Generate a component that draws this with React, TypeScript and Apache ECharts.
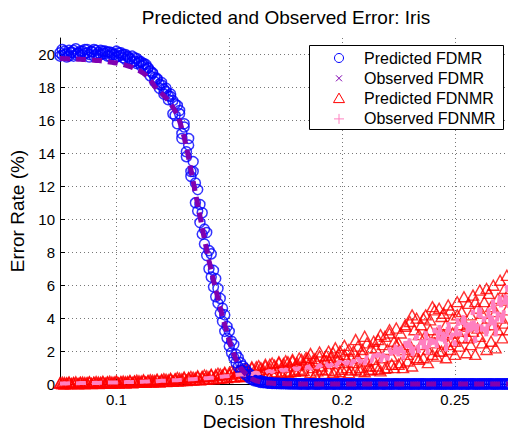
import React, { useEffect, useRef } from "react";
import * as echarts from "echarts";

const thresholds = [
  0.075, 0.076, 0.077, 0.078, 0.079, 0.08, 0.081, 0.082, 0.083, 0.084,
  0.085, 0.086, 0.087, 0.088, 0.089, 0.09, 0.091, 0.092, 0.093, 0.094,
  0.095, 0.096, 0.097, 0.098, 0.099, 0.1, 0.101, 0.102, 0.103, 0.104,
  0.105, 0.106, 0.107, 0.108, 0.109, 0.11, 0.111, 0.112, 0.113, 0.114,
  0.115, 0.116, 0.117, 0.118, 0.119, 0.12, 0.121, 0.122, 0.123, 0.124,
  0.125, 0.126, 0.127, 0.128, 0.129, 0.13, 0.131, 0.132, 0.133, 0.134,
  0.135, 0.136, 0.137, 0.138, 0.139, 0.14, 0.141, 0.142, 0.143, 0.144,
  0.145, 0.146, 0.147, 0.148, 0.149, 0.15, 0.151, 0.152, 0.153, 0.154,
  0.155, 0.156, 0.157, 0.158, 0.159, 0.16, 0.161, 0.162, 0.163, 0.164,
  0.165, 0.166, 0.167, 0.168, 0.169, 0.17, 0.171, 0.172, 0.173, 0.174,
  0.175, 0.176, 0.177, 0.178, 0.179, 0.18, 0.181, 0.182, 0.183, 0.184,
  0.185, 0.186, 0.187, 0.188, 0.189, 0.19, 0.191, 0.192, 0.193, 0.194,
  0.195, 0.196, 0.197, 0.198, 0.199, 0.2, 0.201, 0.202, 0.203, 0.204,
  0.205, 0.206, 0.207, 0.208, 0.209, 0.21, 0.211, 0.212, 0.213, 0.214,
  0.215, 0.216, 0.217, 0.218, 0.219, 0.22, 0.221, 0.222, 0.223, 0.224,
  0.225, 0.226, 0.227, 0.228, 0.229, 0.23, 0.231, 0.232, 0.233, 0.234,
  0.235, 0.236, 0.237, 0.238, 0.239, 0.24, 0.241, 0.242, 0.243, 0.244,
  0.245, 0.246, 0.247, 0.248, 0.249, 0.25, 0.251, 0.252, 0.253, 0.254,
  0.255, 0.256, 0.257, 0.258, 0.259, 0.26, 0.261, 0.262, 0.263, 0.264,
  0.265, 0.266, 0.267, 0.268, 0.269, 0.27, 0.271, 0.272, 0.273, 0.274,
];

// Predicted FDMR, first run
const predictedFDMR = [
  20.1, 19.95, 20.2, 20.05, 19.9, 20.15, 20.25, 20.0, 20.1, 19.95,
  20.2, 20.05, 20.3, 20.0, 20.15, 19.9, 20.25, 20.1, 20.0, 20.2,
  20.05, 20.15, 19.9, 20.1, 20.0, 19.85, 20.1, 19.95, 19.8, 20.0,
  19.85, 19.7, 19.9, 19.6, 19.75, 19.5, 19.55, 19.35, 19.4, 19.15,
  19.0, 18.85, 18.6, 18.5, 18.2, 18.15, 17.9, 17.75, 17.5, 17.45,
  17.2, 16.3, 16.9, 16.4, 15.2, 15.6, 14.1, 14.5, 12.6, 12.9,
  12.2, 10.5, 10.9, 9.1, 9.4, 7.8, 8.1, 6.5, 6.9, 5.3,
  5.8, 4.3, 4.6, 3.2, 3.5, 2.3, 2.6, 1.6, 1.8, 1.05,
  1.3, 0.8, 0.95, 0.5, 0.6, 0.3, 0.35, 0.18, 0.22, 0.1,
  0.12, 0.08, 0.08, 0.05, 0.06, 0.04, 0.05, 0.03, 0.04, 0.03,
  0.03, 0.02, 0.03, 0.02, 0.02, 0.02, 0.01, 0.02, 0.01, 0.01,
  0.01, 0.02, 0.01, 0.01, 0.0, 0.01, 0.02, 0.01, 0.0, 0.01,
  0.01, 0.0, 0.01, 0.02, 0.01, 0.0, 0.01, 0.01, 0.0, 0.02,
  0.0, 0.01, 0.01, 0.0, 0.02, 0.01, 0.0, 0.01, 0.01, 0.0,
  0.01, 0.0, 0.02, 0.01, 0.0, 0.01, 0.01, 0.0, 0.02, 0.01,
  0.0, 0.01, 0.0, 0.01, 0.02, 0.0, 0.01, 0.0, 0.01, 0.01,
  0.02, 0.0, 0.01, 0.0, 0.01, 0.02, 0.0, 0.01, 0.0, 0.01,
  0.0, 0.01, 0.02, 0.0, 0.01, 0.0, 0.01, 0.02, 0.0, 0.01,
  0.01, 0.0, 0.01, 0.02, 0.0, 0.01, 0.0, 0.01, 0.02, 0.0,
  0.01, 0.02, 0.0, 0.01, 0.0, 0.01, 0.02, 0.0, 0.01, 0.0,
];

// Predicted FDMR, second run
const predictedFDMR2 = [
  19.9, 20.3, 20.0, 19.85, 20.25, 20.1, 19.9, 20.35, 20.05, 20.2,
  19.95, 20.3, 20.1, 19.85, 20.2, 20.3, 20.0, 19.9, 20.25, 20.05,
  20.2, 19.9, 20.15, 20.0, 19.75, 20.2, 19.9, 20.1, 20.0, 19.7,
  19.9, 19.75, 19.55, 19.8, 19.45, 19.6, 19.3, 19.45, 19.1, 19.2,
  18.7, 18.9, 18.35, 18.55, 17.95, 18.3, 17.6, 17.95, 17.25, 17.6,
  16.4, 17.0, 15.8, 16.6, 14.9, 15.8, 13.8, 14.9, 12.9, 13.5,
  11.0, 11.8, 9.8, 10.4, 8.5, 9.2, 7.0, 7.9, 5.9, 6.4,
  4.9, 5.2, 3.8, 4.2, 2.8, 3.2, 1.9, 2.4, 1.3, 1.6,
  0.85, 1.1, 0.6, 0.75, 0.35, 0.5, 0.2, 0.3, 0.14, 0.2,
  0.09, 0.14, 0.06, 0.1, 0.04, 0.07, 0.03, 0.05, 0.02, 0.04,
  0.02, 0.03, 0.01, 0.02, 0.01, 0.02, 0.01, 0.0, 0.02, 0.01,
  0.0, 0.01, 0.02, 0.0, 0.01, 0.0, 0.01, 0.02, 0.0, 0.01,
  0.02, 0.01, 0.0, 0.01, 0.0, 0.02, 0.01, 0.0, 0.01, 0.0,
  0.01, 0.0, 0.02, 0.01, 0.0, 0.01, 0.02, 0.0, 0.01, 0.02,
  0.0, 0.02, 0.01, 0.0, 0.01, 0.02, 0.0, 0.01, 0.0, 0.02,
  0.01, 0.0, 0.02, 0.0, 0.01, 0.01, 0.0, 0.02, 0.01, 0.0,
  0.01, 0.02, 0.0, 0.01, 0.0, 0.01, 0.02, 0.0, 0.02, 0.0,
  0.02, 0.0, 0.01, 0.01, 0.0, 0.02, 0.01, 0.0, 0.01, 0.02,
  0.0, 0.01, 0.02, 0.0, 0.01, 0.0, 0.02, 0.01, 0.0, 0.01,
  0.02, 0.0, 0.01, 0.0, 0.02, 0.01, 0.0, 0.01, 0.02, 0.0,
];

const observedFDMR = [
  19.75, 19.75, 19.74, 19.74, 19.73, 19.73, 19.72, 19.72, 19.71, 19.71,
  19.7, 19.69, 19.68, 19.67, 19.66, 19.65, 19.64, 19.63, 19.62, 19.6,
  19.58, 19.56, 19.54, 19.52, 19.5, 19.48, 19.45, 19.42, 19.39, 19.35,
  19.31, 19.27, 19.22, 19.16, 19.1, 19.03, 18.95, 18.86, 18.75, 18.62,
  18.45, 18.26, 18.05, 17.9, 17.75, 17.63, 17.5, 17.36, 17.2, 17.02,
  16.8, 16.57, 16.3, 15.95, 15.5, 14.98, 14.4, 13.72, 13.0, 12.3,
  11.6, 10.9, 10.2, 9.5, 8.8, 8.15, 7.5, 6.9, 6.3, 5.75,
  5.2, 4.65, 4.1, 3.6, 3.1, 2.65, 2.2, 1.85, 1.5, 1.25,
  1.0, 0.82, 0.65, 0.52, 0.4, 0.32, 0.25, 0.2, 0.16, 0.13,
  0.1, 0.08, 0.07, 0.06, 0.05, 0.04, 0.04, 0.03, 0.03, 0.03,
  0.02, 0.02, 0.02, 0.02, 0.02, 0.01, 0.01, 0.01, 0.01, 0.01,
  0.01, 0.01, 0.01, 0.01, 0.01, 0.01, 0.01, 0.01, 0.01, 0.01,
  0.01, 0.01, 0.01, 0.01, 0.01, 0.01, 0.01, 0.01, 0.01, 0.01,
  0.01, 0.01, 0.01, 0.01, 0.01, 0.01, 0.01, 0.01, 0.01, 0.01,
  0.01, 0.01, 0.01, 0.01, 0.01, 0.01, 0.01, 0.01, 0.01, 0.01,
  0.01, 0.01, 0.01, 0.01, 0.01, 0.01, 0.01, 0.01, 0.01, 0.01,
  0.01, 0.01, 0.01, 0.01, 0.01, 0.01, 0.01, 0.01, 0.01, 0.01,
  0.01, 0.01, 0.01, 0.01, 0.01, 0.01, 0.01, 0.01, 0.01, 0.01,
  0.01, 0.01, 0.01, 0.01, 0.01, 0.01, 0.01, 0.01, 0.01, 0.01,
  0.01, 0.01, 0.01, 0.01, 0.01, 0.01, 0.01, 0.01, 0.01, 0.01,
];

// Predicted FDNMR, first run
const predictedFDNMR = [
  0.08, 0.02, 0.1, 0.03, 0.09, 0.04, 0.1, 0.05, 0.02, 0.11,
  0.04, 0.1, 0.05, 0.12, 0.03, 0.11, 0.06, 0.13, 0.05, 0.12,
  0.06, 0.14, 0.07, 0.13, 0.08, 0.15, 0.06, 0.16, 0.09, 0.15,
  0.1, 0.18, 0.09, 0.19, 0.11, 0.2, 0.12, 0.21, 0.13, 0.22,
  0.13, 0.24, 0.15, 0.25, 0.14, 0.28, 0.17, 0.29, 0.18, 0.3,
  0.2, 0.33, 0.19, 0.35, 0.22, 0.38, 0.23, 0.4, 0.25, 0.42,
  0.27, 0.45, 0.28, 0.48, 0.3, 0.5, 0.32, 0.55, 0.33, 0.58,
  0.35, 0.62, 0.38, 0.66, 0.4, 0.7, 0.45, 0.75, 0.46, 0.8,
  0.5, 0.85, 0.45, 0.92, 0.55, 0.98, 0.52, 1.05, 0.6, 1.0,
  0.65, 1.1, 0.6, 1.2, 0.7, 1.15, 0.75, 1.3, 0.68, 1.25,
  0.8, 1.35, 0.75, 1.4, 0.85, 1.3, 0.9, 1.5, 0.82, 1.45,
  1.6, 0.7, 1.4, 1.55, 0.8, 1.7, 0.9, 1.5, 1.75, 0.85,
  1.6, 1.9, 0.8, 1.7, 2.0, 0.9, 1.8, 1.0, 2.1, 0.85,
  2.0, 0.9, 2.3, 1.0, 2.1, 0.75, 2.5, 1.1, 0.9, 2.6,
  1.1, 2.7, 0.8, 2.4, 2.9, 1.0, 3.1, 1.2, 2.6, 3.4,
  1.2, 3.1, 1.0, 3.5, 1.4, 3.8, 1.1, 3.3, 4.0, 1.5,
  3.6, 1.6, 4.2, 1.3, 3.9, 1.8, 4.5, 1.7, 4.6, 2.0,
  4.3, 1.6, 4.8, 2.1, 4.0, 1.8, 5.0, 2.3, 4.4, 5.3,
  1.9, 4.9, 2.4, 5.4, 1.8, 4.6, 5.7, 2.5, 5.0, 2.1,
  5.5, 2.6, 6.0, 2.2, 5.2, 6.3, 2.8, 5.8, 6.6, 3.3,
];

// Predicted FDNMR, second run
const predictedFDNMR2 = [
  0.05, 0.12, 0.0, 0.08, 0.13, 0.02, 0.07, 0.14, 0.03, 0.09,
  0.13, 0.02, 0.09, 0.15, 0.04, 0.1, 0.16, 0.03, 0.12, 0.17,
  0.04, 0.11, 0.18, 0.05, 0.13, 0.2, 0.07, 0.12, 0.19, 0.06,
  0.16, 0.22, 0.08, 0.17, 0.24, 0.1, 0.19, 0.26, 0.11, 0.2,
  0.27, 0.12, 0.22, 0.3, 0.14, 0.24, 0.33, 0.16, 0.26, 0.35,
  0.17, 0.3, 0.4, 0.2, 0.32, 0.43, 0.22, 0.36, 0.46, 0.25,
  0.38, 0.5, 0.26, 0.42, 0.55, 0.3, 0.45, 0.6, 0.32, 0.5,
  0.66, 0.36, 0.55, 0.72, 0.4, 0.6, 0.8, 0.42, 0.65, 0.85,
  0.45, 0.7, 0.95, 0.5, 0.78, 1.05, 0.55, 0.82, 1.12, 0.6,
  0.88, 1.2, 0.62, 0.95, 1.28, 0.66, 1.0, 1.35, 0.7, 1.05,
  1.42, 0.72, 1.1, 1.5, 0.78, 1.15, 1.58, 0.8, 1.2, 1.62,
  1.2, 1.85, 1.0, 0.6, 1.3, 1.95, 1.1, 0.65, 1.4, 2.0,
  1.25, 0.7, 2.2, 1.45, 0.75, 1.3, 2.35, 1.5, 0.7, 1.6,
  1.3, 2.7, 1.6, 0.8, 1.85, 2.9, 1.4, 0.85, 2.2, 1.5,
  2.2, 0.9, 3.0, 1.6, 0.95, 2.1, 3.3, 1.7, 1.0, 2.4,
  2.5, 1.3, 2.1, 3.6, 1.8, 2.4, 4.2, 2.0, 1.6, 3.0,
  2.4, 4.0, 3.0, 2.1, 3.3, 4.7, 2.5, 3.1, 2.0, 4.1,
  3.0, 3.6, 2.4, 4.5, 3.1, 2.6, 4.2, 3.6, 2.8, 3.2,
  3.5, 2.8, 4.2, 3.2, 5.0, 3.4, 2.9, 4.3, 3.6, 5.8,
  4.0, 4.7, 3.6, 4.4, 3.3, 4.0, 5.1, 3.7, 4.5, 5.6,
];

const observedFDNMR = [
  0.04, 0.04, 0.05, 0.04, 0.05, 0.05, 0.05, 0.06, 0.05, 0.06,
  0.06, 0.06, 0.07, 0.06, 0.07, 0.07, 0.08, 0.07, 0.08, 0.08,
  0.08, 0.09, 0.09, 0.09, 0.1, 0.1, 0.1, 0.11, 0.11, 0.12,
  0.12, 0.12, 0.13, 0.13, 0.14, 0.14, 0.15, 0.15, 0.16, 0.16,
  0.17, 0.17, 0.18, 0.18, 0.19, 0.2, 0.2, 0.21, 0.22, 0.22,
  0.23, 0.24, 0.24, 0.25, 0.26, 0.27, 0.27, 0.28, 0.29, 0.3,
  0.31, 0.32, 0.33, 0.34, 0.35, 0.36, 0.37, 0.38, 0.39, 0.41,
  0.42, 0.44, 0.45, 0.47, 0.48, 0.5, 0.52, 0.53, 0.55, 0.57,
  0.58, 0.6, 0.56, 0.63, 0.65, 0.6, 0.68, 0.7, 0.64, 0.72,
  0.74, 0.68, 0.77, 0.8, 0.72, 0.82, 0.85, 0.76, 0.88, 0.8,
  0.9, 0.84, 0.95, 0.88, 0.98, 0.86, 1.0, 0.92, 1.05, 0.95,
  1.1, 0.9, 1.05, 1.15, 0.98, 1.2, 1.0, 1.12, 1.25, 1.05,
  1.15, 1.3, 1.0, 1.25, 1.4, 1.1, 1.35, 1.2, 1.5, 1.15,
  1.45, 1.25, 1.6, 1.3, 1.55, 1.2, 1.7, 1.4, 1.35, 1.8,
  1.5, 1.9, 1.3, 1.75, 2.0, 1.45, 2.2, 1.6, 1.85, 2.5,
  1.7, 2.3, 1.5, 2.6, 2.0, 2.8, 1.6, 2.4, 3.0, 1.9,
  2.7, 2.1, 3.2, 1.8, 2.9, 2.4, 3.4, 2.2, 3.6, 2.6,
  3.3, 2.0, 3.8, 2.7, 3.1, 2.3, 4.0, 2.9, 3.5, 4.3,
  2.6, 3.9, 3.0, 4.5, 2.5, 3.7, 4.8, 3.2, 4.1, 2.8,
  4.6, 3.4, 5.2, 2.9, 4.3, 5.5, 3.6, 4.9, 6.0, 4.2,
];

const seriesNames = ["Predicted FDMR", "Observed FDMR", "Predicted FDNMR", "Observed FDNMR"];
const xTicks = [0.1, 0.15, 0.2, 0.25];
const yTicks = [0, 2, 4, 6, 8, 10, 12, 14, 16, 18, 20];

const FONT = "'Liberation Sans', Arial, Helvetica, sans-serif";
const BLUE = "#0000ff";
const PURPLE = "#8000b0";
const RED = "#ff0000";
const PINK = "#ff80c0";

export default function App() {
  const ref = useRef<HTMLDivElement>(null);

  useEffect(() => {
    const chart = echarts.init(ref.current!, null, { renderer: "svg" });
    const pair = (ys: number[]) => thresholds.map((x, i) => [x, ys[i]]);

    const lx = 339;
    const rowY = (i: number) => 58 + i * 20.3;
    const legendGraphics: any[] = [
      {
        type: "rect",
        z: 100,
        shape: { x: 309.5, y: 45.5, width: 194, height: 84 },
        style: { fill: "#fff", stroke: "#000", lineWidth: 1 },
      },
      {
        type: "circle",
        z: 101,
        shape: { cx: lx, cy: rowY(0), r: 4.5 },
        style: { fill: "none", stroke: BLUE, lineWidth: 1 },
      },
      {
        type: "line",
        z: 101,
        shape: { x1: lx - 3, y1: rowY(1) - 3, x2: lx + 3, y2: rowY(1) + 3 },
        style: { stroke: PURPLE, lineWidth: 1 },
      },
      {
        type: "line",
        z: 101,
        shape: { x1: lx - 3, y1: rowY(1) + 3, x2: lx + 3, y2: rowY(1) - 3 },
        style: { stroke: PURPLE, lineWidth: 1 },
      },
      {
        type: "polygon",
        z: 101,
        shape: { points: [[lx, rowY(2) - 5.5], [lx - 5.5, rowY(2) + 4], [lx + 5.5, rowY(2) + 4]] },
        style: { fill: "none", stroke: RED, lineWidth: 1 },
      },
      {
        type: "line",
        z: 101,
        shape: { x1: lx, y1: rowY(3) - 5, x2: lx, y2: rowY(3) + 5 },
        style: { stroke: PINK, lineWidth: 1 },
      },
      {
        type: "line",
        z: 101,
        shape: { x1: lx - 5, y1: rowY(3), x2: lx + 5, y2: rowY(3) },
        style: { stroke: PINK, lineWidth: 1 },
      },
      ...seriesNames.map((name, i) => ({
        type: "text",
        z: 101,
        x: 364,
        y: rowY(i),
        style: {
          text: name,
          fontSize: 16,
          fontFamily: FONT,
          fill: "#000",
          textAlign: "left",
          textVerticalAlign: "middle",
        },
      })),
      {
        type: "text",
        z: 101,
        x: 286,
        y: 17,
        style: {
          text: "Predicted and Observed Error: Iris",
          fontSize: 19,
          fontFamily: FONT,
          fill: "#000",
          textAlign: "center",
          textVerticalAlign: "middle",
        },
      },
    ];

    const triangleStyle = { color: "rgba(0,0,0,0)", borderColor: RED, borderWidth: 1.4 };
    const circleStyle = { color: "rgba(0,0,0,0)", borderColor: BLUE, borderWidth: 1.5 };

    const option: any = {
      animation: false,
      backgroundColor: "#fff",
      grid: { left: 60, right: 0, top: 38, bottom: 42, containLabel: false },
      xAxis: {
        type: "value",
        min: 0.075,
        max: 0.2735,
        name: "Decision Threshold",
        nameLocation: "middle",
        nameGap: 24,
        nameTextStyle: { fontSize: 19, color: "#000", fontFamily: FONT },
        axisLine: { show: true, onZero: false, lineStyle: { color: "#000", width: 1 } },
        axisTick: { show: true, inside: true, length: 5, customValues: xTicks, lineStyle: { color: "#000" } },
        axisLabel: { customValues: xTicks, fontSize: 15, color: "#000", margin: 8, fontFamily: FONT },
        splitLine: { show: true, lineStyle: { color: "#777", type: [1, 3], width: 1 } },
      },
      yAxis: {
        type: "value",
        min: 0,
        max: 21,
        name: "Error Rate (%)",
        nameLocation: "middle",
        nameGap: 27,
        nameTextStyle: { fontSize: 19, color: "#000", fontFamily: FONT },
        axisLine: { show: true, lineStyle: { color: "#000", width: 1 } },
        axisTick: { show: true, inside: true, length: 5, customValues: yTicks, lineStyle: { color: "#000" } },
        axisLabel: { customValues: yTicks, fontSize: 15, color: "#000", margin: 5, fontFamily: FONT },
        splitLine: { show: true, lineStyle: { color: "#777", type: [1, 3], width: 1 } },
      },
      series: [
        {
          name: seriesNames[2],
          type: "scatter",
          data: pair(predictedFDNMR),
          symbol: "triangle",
          symbolSize: [11, 10],
          clip: false,
          silent: true,
          itemStyle: triangleStyle,
        },
        {
          name: seriesNames[2],
          type: "scatter",
          data: pair(predictedFDNMR2),
          symbol: "triangle",
          symbolSize: [11, 10],
          clip: false,
          silent: true,
          itemStyle: triangleStyle,
        },
        {
          name: seriesNames[3],
          type: "line",
          data: pair(observedFDNMR),
          symbol: "none",
          showSymbol: false,
          clip: false,
          silent: true,
          lineStyle: { color: PINK, width: 4, type: [10, 6] },
        },
        {
          name: seriesNames[0],
          type: "scatter",
          data: pair(predictedFDMR),
          symbol: "circle",
          symbolSize: 10,
          clip: false,
          silent: true,
          itemStyle: circleStyle,
        },
        {
          name: seriesNames[0],
          type: "scatter",
          data: pair(predictedFDMR2),
          symbol: "circle",
          symbolSize: 10,
          clip: false,
          silent: true,
          itemStyle: circleStyle,
        },
        {
          name: seriesNames[1],
          type: "line",
          data: pair(observedFDMR),
          symbol: "none",
          showSymbol: false,
          clip: false,
          silent: true,
          lineStyle: { color: PURPLE, width: 5, type: [10, 6] },
        },
      ],
      graphic: legendGraphics,
    };

    chart.setOption(option);
    return () => chart.dispose();
  }, []);

  return (
    <div
      ref={ref}
      style={{ position: "fixed", left: 0, top: 0, width: 508, height: 436, background: "#fff" }}
    />
  );
}
